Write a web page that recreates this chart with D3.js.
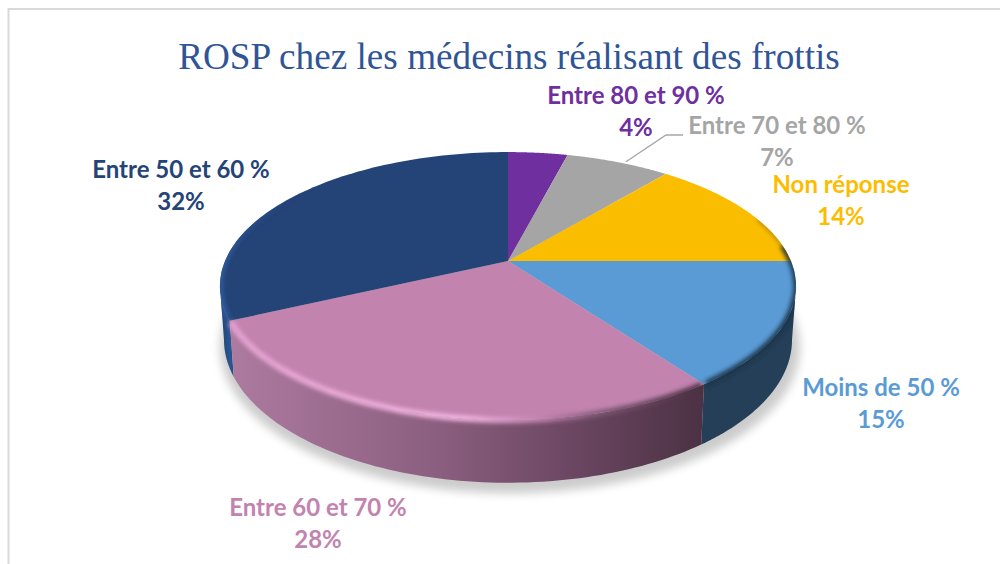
<!DOCTYPE html>
<html><head><meta charset="utf-8">
<script src="https://cdn.jsdelivr.net/npm/d3@7/dist/d3.min.js"></script>
<style>html,body{margin:0;padding:0;background:#fff}svg{display:block}</style>
</head><body><svg id="c" width="1000" height="564"></svg>
<script>
const title = "ROSP chez les médecins réalisant des frottis";
const categories = ["Entre 80 et 90 %","Entre 70 et 80 %","Non réponse","Moins de 50 %","Entre 60 et 70 %","Entre 50 et 60 %"];
const values = [4,7,14,15,28,32];
const colors = ["#6f2f9f","#a5a5a5","#fbbd00","#5b9bd5","#c283af","#244377"];

const svg = d3.select("#c");
const defs = svg.append("defs");
const K = 0.187;
// perspective projection of the pie's circle on the page
function project(t, g){
  const u = Math.sin(t), v = -Math.cos(t), d = 1 - K*v;
  return [g.x + g.a*u/d, g.y + g.b*v/d];
}
const topG = {x:508,y:261,a:283,b:129.3};
const botG = {x:508,y:313,a:279,b:138};
const line = d3.line();
const sample = (a,b,n=80)=>d3.range(n+1).map(i=>a+(b-a)*i/n);

const arcs = d3.pie().sort(null).value(d=>d)(values);
const ring = (a,b,g)=>sample(a,b).map(t=>project(t,g));
const TAU = 2*Math.PI;
const widestR = Math.PI/2 + Math.asin(K), widestL = TAU - widestR;

// frame
svg.append("path").attr("d","M8.5 564V9H1000").attr("fill","none").attr("stroke","#d9d9d9").attr("stroke-width",2);

// title
svg.append("text").attr("x",509).attr("y",69).attr("text-anchor","middle")
  .attr("font-family","Liberation Serif").attr("font-size",37.2).attr("fill","#2f5597").text(title);

// filters and gradients
const blur = (id,s)=>defs.append("filter").attr("id",id).attr("filterUnits","userSpaceOnUse")
  .attr("x",0).attr("y",0).attr("width",1000).attr("height",564)
  .append("feGaussianBlur").attr("stdDeviation",s);
blur("sh",5); blur("b2",2.2);
const grad = (id,x1,x2,stops)=>{const g=defs.append("linearGradient").attr("id",id).attr("gradientUnits","userSpaceOnUse")
  .attr("x1",x1).attr("x2",x2).attr("y1",0).attr("y2",0);
  stops.forEach(([o,c,a])=>g.append("stop").attr("offset",o).attr("stop-color",c).attr("stop-opacity",a===undefined?1:a));};
grad("pk",230,700,[[0,"#ad7aa0"],[.45,"#8a5e7e"],[.75,"#694560"],[1,"#4c3244"]]);
grad("nv",220,240,[[0,"#224272"],[.5,"#2a5592"],[1,"#224272"]]);
grad("rim",230,700,[[0,"#e6a2d2"],[.5,"#f2b6e2"],[.66,"#c283af"],[.8,"#7a5570"],[1,"#4a3042"]]);
grad("nrim",220,300,[[0,"#2f5c9e"],[.25,"#2a5090"],[1,"#244377",0]]);

// ground shadow
const shadowG = {x:510,y:320,a:285,b:141};
svg.append("path").attr("d",line(ring(0,TAU,shadowG))+"Z").attr("fill","#000").attr("opacity",.2).attr("filter","url(#sh)");

// sides: navy, blue, pink
const side = (a,b)=>line(ring(a,b,topG).concat(ring(a,b,botG).reverse()))+"Z";
svg.append("path").attr("d",side(arcs[5].startAngle,widestL)).attr("fill","url(#nv)");
svg.append("path").attr("d",side(widestR,arcs[3].endAngle)).attr("fill","#243f57");
svg.append("path").attr("d",side(arcs[4].startAngle,arcs[4].endAngle)).attr("fill","url(#pk)");

// top faces
const clip = defs.append("clipPath").attr("id","face");
clip.append("path").attr("d",line(ring(0,TAU,topG))+"Z");
clip.append("path").attr("d",side(widestR,widestL));
const face = svg.append("g");
face.selectAll("path.s").data(arcs).join("path").attr("class","s")
  .attr("d",d=>line([[topG.x,topG.y]].concat(ring(d.startAngle,d.endAngle,topG)))+"Z")
  .attr("fill",(d,i)=>colors[i]);

// bevel along the rim
const bevel = svg.append("g").attr("clip-path","url(#face)");
const edge = (a,b,c,w,o)=>bevel.append("path").attr("d",line(ring(a,b,topG))).attr("fill","none")
  .attr("stroke",c).attr("stroke-width",w).attr("opacity",o).attr("filter","url(#b2)");
edge(arcs[5].startAngle+.02,arcs[5].startAngle+1.1,"url(#nrim)",6,1);
edge(arcs[3].startAngle-.12,arcs[3].endAngle-.01,"#1c3448",6,.95);
edge(arcs[2].endAngle-.35,arcs[2].endAngle,"#5a4a20",2.5,.6);
edge(arcs[4].startAngle+.01,arcs[4].endAngle-.01,"url(#rim)",6,1);

// leader line
svg.append("path").attr("d",line(leader())).attr("fill","none").attr("stroke","#a6a6a6").attr("stroke-width",1.3);
function leader(){
  const a = arcs[1], p = project(a.startAngle+(a.endAngle-a.startAngle)*.58,topG);
  return [[p[0],p[1]-2],[666,135],[683,135]];
}

// labels
const labels = [
  [636,104,"#6f2f9f"],
  [777,134,"#a5a5a5"],
  [841,193,"#fbbd00"],
  [881,396,"#5b9bd5"],
  [318,516,"#c283af"],
  [181,178,"#244377"]
];
const lab = svg.selectAll("g.l").data(categories).join("g").attr("class","l")
  .attr("font-family","Lato").attr("font-weight",700).attr("font-size",24).attr("text-anchor","middle")
  .attr("fill",(d,i)=>labels[i][2]);
lab.append("text").attr("x",(d,i)=>labels[i][0]).attr("y",(d,i)=>labels[i][1]).text(d=>d);
lab.append("text").attr("x",(d,i)=>labels[i][0]).attr("y",(d,i)=>labels[i][1]+32).text((d,i)=>values[i]+"%");
</script></body></html>
